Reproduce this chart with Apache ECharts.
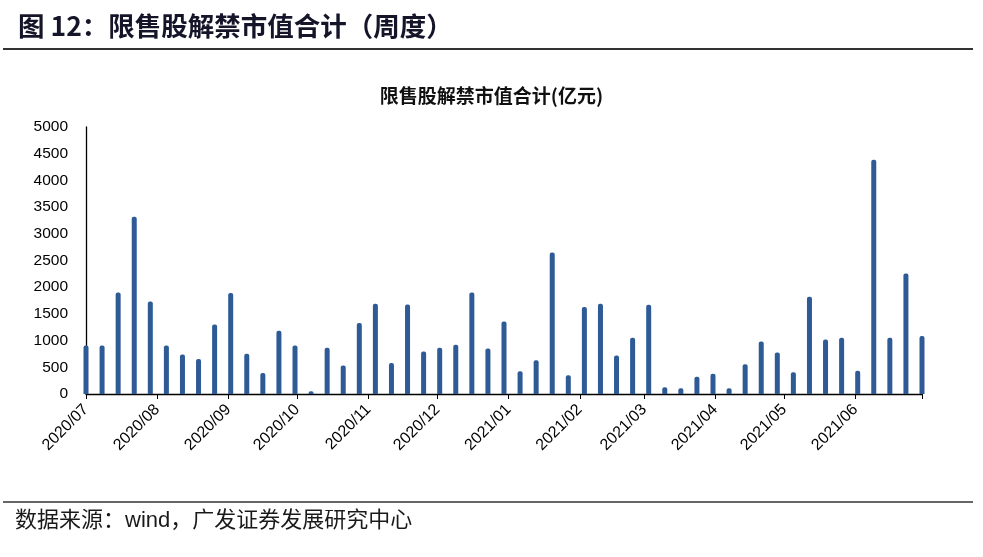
<!DOCTYPE html>
<html><head><meta charset="utf-8">
<script src="https://cdn.jsdelivr.net/npm/echarts@6/dist/echarts.min.js"></script>
<style>html,body{margin:0;padding:0;background:#fff}#c{width:983px;height:557px}</style>
</head><body><div id="c"></div>
<script>
// weekly dates (one bar per week)
const dates = [
  '2020-07-03','2020-07-10','2020-07-17','2020-07-24','2020-07-31',
  '2020-08-07','2020-08-14','2020-08-21','2020-08-28',
  '2020-09-04','2020-09-11','2020-09-18','2020-09-25',
  '2020-10-02','2020-10-09','2020-10-16','2020-10-23','2020-10-30',
  '2020-11-06','2020-11-13','2020-11-20','2020-11-27',
  '2020-12-04','2020-12-11','2020-12-18','2020-12-25',
  '2021-01-01','2021-01-08','2021-01-15','2021-01-22','2021-01-29',
  '2021-02-05','2021-02-12','2021-02-19','2021-02-26',
  '2021-03-05','2021-03-12','2021-03-19','2021-03-26',
  '2021-04-02','2021-04-09','2021-04-16','2021-04-23','2021-04-30',
  '2021-05-07','2021-05-14','2021-05-21','2021-05-28',
  '2021-06-04','2021-06-11','2021-06-18','2021-06-25','2021-07-02'
];
// 限售股解禁市值合计 (亿元)
const values = [
  910, 910, 1900, 3320, 1730,
  910, 740, 655, 1300,
  1890, 755, 393, 1185,
  910, 50, 867, 536, 1328,
  1690, 580, 1677, 798,
  867, 923, 1900, 854,
  1359, 424, 630, 2650, 349,
  1627, 1690, 723, 1054,
  1671, 125, 106, 324,
  380, 106, 555, 985, 779,
  405, 1820, 1022, 1054,
  436, 4389, 1054, 2257, 1085
];
// x axis tick labels
const monthTicks = [
  '2020-07-03','2020-08-03','2020-09-03','2020-10-03','2020-11-03','2020-12-03',
  '2021-01-03','2021-02-03','2021-03-03','2021-04-03','2021-05-03','2021-06-03'
];
const axisMin = '2020-07-03';
const axisMax = '2021-07-02';
const yMin = 0, yMax = 5000, yStep = 500;

function ts(s){ const p = s.split('-').map(Number); return new Date(p[0], p[1]-1, p[2]).getTime(); }
function fmt(v){ const d = new Date(v); return d.getFullYear() + '/' + String(d.getMonth()+1).padStart(2,'0'); }

const chart = echarts.init(document.getElementById('c'), null, {renderer:'canvas'});
const latin = '"Liberation Sans", Arial, sans-serif';
const cjk = '"Noto Sans CJK SC", sans-serif';

chart.setOption({
  backgroundColor: '#fff',
  animation: false,
  title: {
    text: '限售股解禁市值合计(亿元)',
    left: 'center', top: 81,
    textStyle: { fontFamily: cjk, fontSize: 19, fontWeight: 'bold', color: '#111' }
  },
  grid: { left: 86, right: 61, top: 127, bottom: 163, containLabel: false },
  xAxis: {
    type: 'value',
    min: ts(axisMin), max: ts(axisMax),
    axisLine: { show: true, onZero: false, lineStyle: { color: '#000', width: 1.3 } },
    axisTick: { show: true, length: 5, lineStyle: { color: '#000', width: 1 },
      customValues: monthTicks.map(ts).concat([ts(axisMax)]) },
    axisLabel: {
      customValues: monthTicks.map(ts),
      formatter: fmt, rotate: 45, margin: 13,
      fontFamily: latin, fontSize: 16, color: '#000', hideOverlap: false
    },
    splitLine: { show: false }
  },
  yAxis: {
    type: 'value', min: yMin, max: yMax, interval: yStep,
    axisLine: { show: true, lineStyle: { color: '#000', width: 1.3 } },
    axisTick: { show: false },
    axisLabel: { fontFamily: latin, fontSize: 15.5, color: '#000', margin: 18,
      formatter: function (v) { return String(v); } },
    splitLine: { show: false }
  },
  series: [{
    type: 'bar',
    data: dates.map((d, i) => [ts(d), values[i]]),
    barWidth: 5,
    clip: false,
    itemStyle: { color: '#2E5A96', borderRadius: [2, 2, 0, 0] }
  }],
  graphic: [
    { type: 'text', left: 18, top: 13,
      style: { text: '图 12：限售股解禁市值合计（周度）', font: 'bold 26.5px "Noto Sans CJK SC", sans-serif', fill: '#15152a' } },
    { type: 'line', shape: { x1: 3, y1: 49, x2: 973, y2: 49 }, style: { stroke: '#333', lineWidth: 2 } },
    { type: 'line', shape: { x1: 3, y1: 502, x2: 973, y2: 502 }, style: { stroke: '#333', lineWidth: 1.5 } },
    { type: 'text', left: 15, top: 510,
      style: { text: '数据来源：wind，广发证券发展研究中心', font: '22px "Liberation Sans", Arial, "Noto Sans CJK SC", sans-serif', fill: '#1a1a1a' } }
  ]
});
</script></body></html>
